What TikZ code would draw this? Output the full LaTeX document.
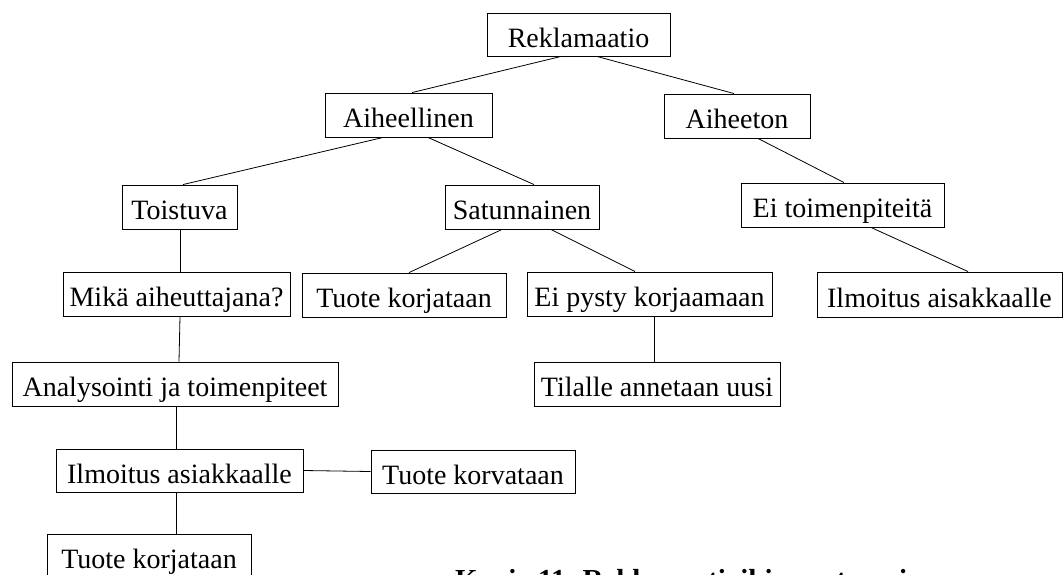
\documentclass[tikz,border=0pt]{standalone}
\usepackage{fontspec}
\setmainfont{Liberation Serif}
\begin{document}
\begin{tikzpicture}[x=1pt,y=-1pt,
  box/.style={draw=black,line width=0.9pt,minimum height=44pt,inner sep=0pt,
    text height=25pt,text depth=0pt,
    font=\fontsize{28}{30}\selectfont,text=black},
  link/.style={draw=black,line width=0.8pt}]
\useasboundingbox (0,0) rectangle (1063,574);
\fill[white] (0,0) rectangle (1063,574);
\node[box,minimum width=183pt,minimum height=43pt] (rek) at (578.5,34.5) {Reklamaatio};
\node[box,minimum width=167pt] (aih) at (408.5,115) {Aiheellinen};
\node[box,minimum width=146pt] (aiheeton) at (737,116) {Aiheeton};
\node[box,minimum width=115pt] (toist) at (179.5,207) {Toistuva};
\node[box,minimum width=154pt] (satun) at (522,207) {Satunnainen};
\node[box,minimum width=203pt] (eitoim) at (842.5,205) {Ei toimenpiteitä};
\node[box,minimum width=227pt] (mika) at (176.5,294) {Mikä aiheuttajana?};
\node[box,minimum width=204pt] (tkor1) at (404,295) {Tuote korjataan};
\node[box,minimum width=245pt] (eipysty) at (649.5,294) {Ei pysty korjaamaan};
\node[box,minimum width=245pt,minimum height=45pt] (ilmR) at (939.5,294.5) {Ilmoitus aisakkaalle};
\node[box,minimum width=326pt] (anal) at (175,384) {Analysointi ja toimenpiteet};
\node[box,minimum width=246pt] (tilalle) at (657,384) {Tilalle annetaan uusi};
\node[box,minimum width=247pt,minimum height=43pt] (ilmL) at (179.5,470.5) {Ilmoitus asiakkaalle};
\node[box,minimum width=204pt,minimum height=43pt] (tkorv) at (473,471.5) {Tuote korvataan};
\node[box,minimum width=204pt,minimum height=43pt] (tkor2) at (149,555.5) {Tuote korjataan};
\node[anchor=base west,inner sep=0pt,font=\fontsize{29}{31}\selectfont\bfseries] (cap) at (455,589) {Kuvio 11. Reklamaatioihin vastaaminen};
\draw[link] ([xshift=-17.5pt]rek.south) -- ([xshift=3.5pt]aih.north);
\draw[link] ([xshift=18.5pt]rek.south) -- ([xshift=-3pt]aiheeton.north);
\draw[link] ([xshift=-25.5pt]aih.south) -- ([xshift=3.5pt]toist.north);
\draw[link] ([xshift=19.5pt]aih.south) -- ([xshift=12pt]satun.north);
\draw[link] ([xshift=21pt]aiheeton.south) -- ([xshift=1.5pt]eitoim.north);
\draw[link] ([xshift=0.5pt]toist.south) -- ([xshift=3.5pt]mika.north);
\draw[link] ([xshift=-20pt]satun.south) -- ([xshift=5pt]tkor1.north);
\draw[link] ([xshift=29pt]satun.south) -- ([xshift=-14.5pt]eipysty.north);
\draw[link] ([xshift=28.5pt]eitoim.south) -- ([xshift=28.5pt]ilmR.north);
\draw[link] ([xshift=3.5pt]mika.south) -- ([xshift=4pt]anal.north);
\draw[link] ([xshift=4.5pt]eipysty.south) -- ([xshift=-3pt]tilalle.north);
\draw[link] ([xshift=1pt]anal.south) -- ([xshift=-3.5pt]ilmL.north);
\draw[link] (ilmL.east) -- (tkorv.west);
\draw[link] ([xshift=-3.5pt]ilmL.south) -- ([xshift=27pt]tkor2.north);
\end{tikzpicture}
\end{document}
